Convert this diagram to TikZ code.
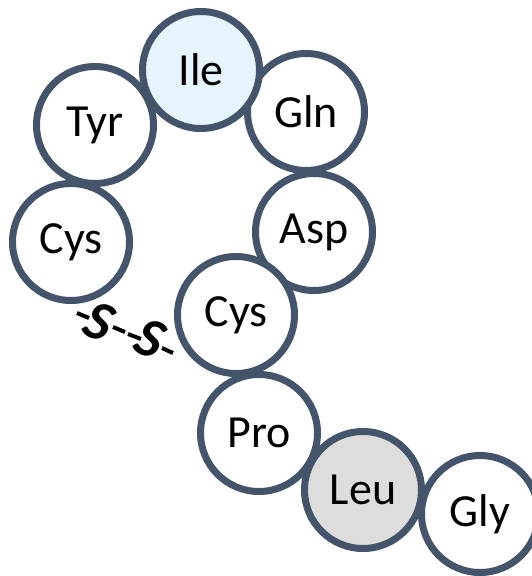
\documentclass[tikz,border=0pt]{standalone}
\usepackage{fontspec}
\setmainfont{Carlito}
\definecolor{ringc}{HTML}{44546A}
\definecolor{ilefill}{HTML}{E6F4FD}
\definecolor{leufill}{HTML}{DDDDDD}
\tikzset{
  residue/.style={circle, draw=ringc, line width=7pt, fill=white,
    minimum size=117pt, inner sep=0pt, font=\fontsize{46}{50}\selectfont},
  sletter/.style={font=\fontsize{56}{60}\selectfont\bfseries\itshape, inner sep=0pt, rotate=-22},
  bondline/.style={line width=4pt, black}
}
\begin{document}
\begin{tikzpicture}[x=1pt,y=-1pt]
\useasboundingbox (0,0) rectangle (532,576);
\begin{scope}
\clip (0,0) rectangle (532,576);
\node[residue] (tyr) at (95,125) {Tyr};
\node[residue] (gln) at (306,112) {Gln};
\node[residue, fill=ilefill] (ile) at (201,70) {Ile};
\node[residue] (cysa) at (71,242) {Cys};
\node[residue] (asp) at (314,232) {Asp};
\node[residue] (pro) at (259,433) {Pro};
\node[residue] (cysb) at (236,315) {Cys};
\node[residue, fill=leufill] (leu) at (363,490) {Leu};
\node[residue] (gly) at (480,514) {Gly};
\node[sletter] (s1) at (99,322) {S};
\node[sletter] (s2) at (150,339) {S};
\coordinate (d1a) at (77,313);
\coordinate (d1b) at (89,318);
\coordinate (d2a) at (113,327);
\coordinate (d2b) at (125,332);
\coordinate (d3a) at (128,334);
\coordinate (d3b) at (141,339);
\coordinate (d4a) at (162,348);
\coordinate (d4b) at (173,353);
\draw[bondline] (d1a) -- (d1b);
\draw[bondline] (d2a) -- (d2b);
\draw[bondline] (d3a) -- (d3b);
\draw[bondline] (d4a) -- (d4b);
\end{scope}
\end{tikzpicture}
\end{document}
